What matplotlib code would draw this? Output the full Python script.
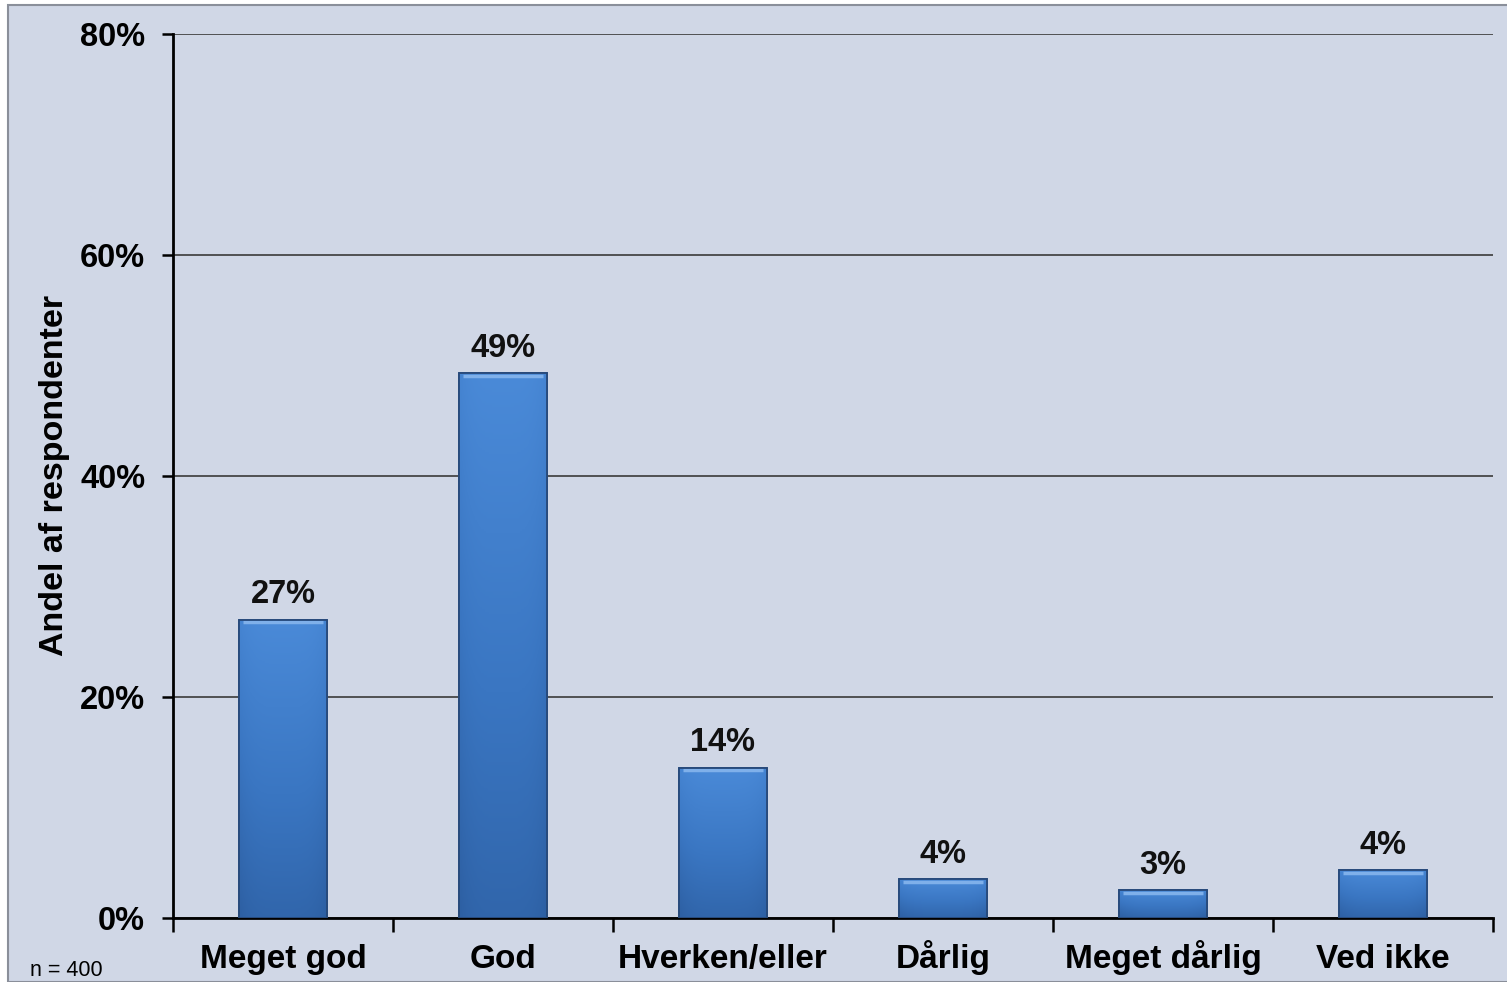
import numpy as np
import matplotlib
matplotlib.use("Agg")
from matplotlib import pyplot as plt
from matplotlib.patches import Rectangle
from matplotlib.colors import LinearSegmentedColormap

# data
categories = ['Meget god', 'God', 'Hverken/eller', 'Dårlig', 'Meget dårlig', 'Ved ikke']
shares = [0.270, 0.493, 0.136, 0.035, 0.025, 0.043]
labels = ['27%', '49%', '14%', '4%', '3%', '4%']
y_ticks = [0.0, 0.2, 0.4, 0.6, 0.8]
y_ticklabels = ['0%', '20%', '40%', '60%', '80%']

plt.rcParams['font.family'] = ['Liberation Sans', 'DejaVu Sans']

bg = '#d0d7e6'
fig = plt.figure(figsize=(15.07, 9.82), dpi=100, facecolor='white')
# slide background with thin border (white strip top/left)
fig.patches.append(Rectangle((8 / 1507, 0), 1, 1 - 5 / 982, transform=fig.transFigure,
                             facecolor=bg, edgecolor='#8a8f9a', linewidth=1.5, zorder=-10))

ax = fig.add_axes([173 / 1507, 1 - 918 / 982, 1320 / 1507, 884 / 982])
ax.set_facecolor('none')

x = np.arange(len(categories))
width = 0.4
bars = ax.bar(x, shares, width, color='#3c78c4', edgecolor='#2a4f80', linewidth=1.2, zorder=3)

# vertical gradient inside each bar, a bit darker towards the sides
cmap = LinearSegmentedColormap.from_list('barfade', ['#2d5fa2', '#3a76c2', '#4a8ad8'])
grad = np.linspace(0, 1, 256).reshape(-1, 1)
shade = np.linspace(-1, 1, 64)
grad2 = grad * 0.85 + 0.15 * (1 - shade[None, :] ** 4)
for b in bars:
    x0, y0, w, h = b.get_x(), b.get_y(), b.get_width(), b.get_height()
    im = ax.imshow(grad2, extent=[x0, x0 + w, y0, y0 + h], origin='lower', cmap=cmap,
                   aspect='auto', zorder=3.5, vmin=0, vmax=1)
    im.set_clip_path(b)
    # bevel highlight at top
    ax.plot([x0 + w * 0.04, x0 + w * 0.96], [y0 + h - 0.0025] * 2, color='#7fb0ea',
            lw=2.5, zorder=4, solid_capstyle='butt')
    ax.add_patch(Rectangle((x0, y0), w, h, facecolor='none', edgecolor='#27497a',
                           linewidth=1.3, zorder=4.5))

for xi, v, lab in zip(x, shares, labels):
    ax.annotate(lab, (xi, v), xytext=(0, 7), textcoords='offset points', ha='center',
                va='bottom', fontsize=23.5, fontweight='bold', color='#111111', zorder=5)

ax.set_xlim(-0.5, len(categories) - 0.5)
ax.set_ylim(0, 0.8)
ax.set_yticks(y_ticks)
ax.set_yticklabels(y_ticklabels, fontsize=23.5, fontweight='bold')
ax.set_xticks(x)
ax.set_xticklabels(categories, fontsize=24, fontweight='bold', va='baseline')
ax.set_xticks(np.arange(len(categories) + 1) - 0.5, minor=True)
ax.tick_params(axis='x', which='major', length=0, pad=36)
ax.tick_params(axis='x', which='minor', length=10, width=1.8, direction='out', color='black')
ax.tick_params(axis='y', length=8, width=1.8, direction='out', pad=12)

ax.yaxis.grid(True, color='#3a3a3a', linewidth=1.2, zorder=1)
ax.set_axisbelow(True)
for s in ['top', 'right']:
    ax.spines[s].set_visible(False)
ax.spines['left'].set_linewidth(2)
ax.spines['bottom'].set_linewidth(2)

fig.text(55 / 1507, 1 - 475 / 982, 'Andel af respondenter', rotation=90, ha='center',
         va='center', fontsize=24.5, fontweight='bold')
fig.text(30 / 1507, 1 - 976 / 982, 'n = 400', ha='left', va='baseline', fontsize=15.5)

fig.savefig('out.png', dpi=100, facecolor=fig.get_facecolor())
